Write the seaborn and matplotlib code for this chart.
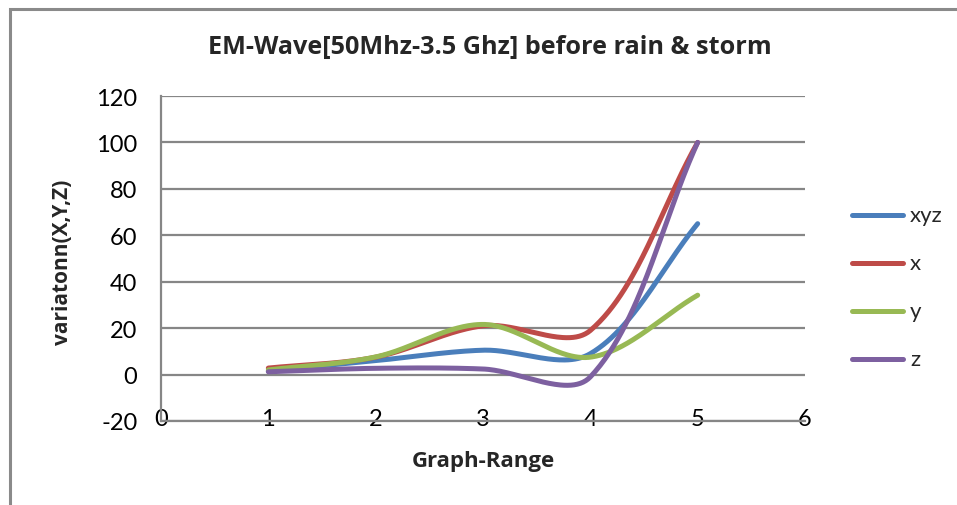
import numpy as np
import pandas as pd
import matplotlib
matplotlib.use("Agg")
import matplotlib.pyplot as plt
import seaborn as sns
from matplotlib.patches import Rectangle
from matplotlib.lines import Line2D

# ---- data ----
graph_range = [1, 2, 3, 4, 5]
xyz = [1.5, 6.0, 10.5, 9.0, 65.0]
x_vals = [2.8, 7.5, 21.0, 19.0, 100.0]
y_vals = [2.0, 7.6, 21.6, 7.5, 34.2]
z_vals = [1.2, 2.7, 2.4, -1.0, 100.0]
series_names = ["xyz", "x", "y", "z"]
colors = ["#4A7EBB", "#BE4B48", "#98B954", "#7D60A0"]

title = "EM-Wave[50Mhz-3.5 Ghz] before rain & storm"
xlabel = "Graph-Range"
ylabel = "variatonn(X,Y,Z)"
xticks = [0, 1, 2, 3, 4, 5, 6]
yticks = [-20, 0, 20, 40, 60, 80, 100, 120]

sns.set_theme(style="white")
plt.rcParams['font.family'] = ['Lato', 'DejaVu Sans']
BOLD = ['Open Sans', 'DejaVu Sans']

W, H = 957, 506
fig = plt.figure(figsize=(W / 100, H / 100), dpi=100)
ax = fig.add_axes([161 / W, 1 - 422 / H, (805 - 161) / W, (422 - 97) / H])
ax.set_xlim(0, 6)
ax.set_ylim(-20, 120)


def excel_smooth(xs, ys, n=60):
    """Excel-like smoothed line: cubic Bezier with length-weighted tangents in pixel space."""
    pts = ax.transData.transform(np.column_stack([xs, ys]))
    m = len(pts)
    out = []
    for i in range(m - 1):
        p0 = pts[i - 1] if i > 0 else pts[i]
        p1 = pts[i]
        p2 = pts[i + 1]
        p3 = pts[i + 2] if i + 2 < m else pts[i + 1]
        d01 = np.linalg.norm(p1 - p0)
        d12 = np.linalg.norm(p2 - p1)
        d23 = np.linalg.norm(p3 - p2)
        f1 = d12 / (d01 + d12) if d01 + d12 > 0 else 0.5
        f2 = d12 / (d12 + d23) if d12 + d23 > 0 else 0.5
        c1 = p1 + (p2 - p0) * f1 / 3.0
        c2 = p2 - (p3 - p1) * f2 / 3.0
        t = np.linspace(0, 1, n)[:, None]
        seg = ((1 - t) ** 3) * p1 + 3 * ((1 - t) ** 2) * t * c1 + 3 * (1 - t) * t ** 2 * c2 + t ** 3 * p2
        if i > 0:
            seg = seg[1:]
        out.append(seg)
    out = np.vstack(out)
    data = ax.transData.inverted().transform(out)
    return data[:, 0], data[:, 1]


grid_c = "#868686"
for yt in yticks:
    ax.axhline(yt, color=grid_c, lw=1.6, zorder=1)

for name, vals, c in zip(series_names, [xyz, x_vals, y_vals, z_vals], colors):
    sx, sy = excel_smooth(np.array(graph_range, float), np.array(vals, float))
    df = pd.DataFrame({"gx": sx, "gy": sy})
    sns.lineplot(data=df, x="gx", y="gy", sort=False, color=c, lw=3.6, ax=ax,
                 solid_capstyle="round", zorder=3)

ax.set_xticks(xticks)
ax.set_yticks(yticks)
ax.set_xticklabels([str(v) for v in xticks], fontsize=17)
ax.set_yticklabels([str(v) for v in yticks], fontsize=17)
ax.tick_params(axis="x", pad=-9, length=0, colors="black")
ax.tick_params(axis="y", pad=17, length=0, colors="black")
for lbl in ax.get_xticklabels():
    lbl.set_zorder(5)

for s in ["top", "right"]:
    ax.spines[s].set_visible(False)
for s in ["left", "bottom"]:
    ax.spines[s].set_color(grid_c)
    ax.spines[s].set_linewidth(1.6)

ax.set_xlabel("")
ax.set_ylabel("")
fig.text(483 / W, 1 - 462 / H, xlabel, ha="center", va="center", fontsize=16,
         fontweight="bold", family=BOLD)
fig.text(63 / W, 1 - 262 / H, ylabel, ha="center", va="center", rotation=90, fontsize=15,
         fontweight="bold", family=BOLD)
fig.text(490 / W, 1 - 47 / H, title, ha="center", va="center", fontsize=18.2,
         fontweight="bold", family=BOLD)

# legend (manual, figure coords)
leg_rows = [216, 264, 312, 360]
for name, c, yy in zip(series_names, colors, leg_rows):
    fig.add_artist(Line2D([852 / W, 903 / W], [1 - yy / H, 1 - yy / H], color=c, lw=3.6,
                          solid_capstyle="round", transform=fig.transFigure))
    fig.text(910 / W, 1 - yy / H, name, ha="left", va="center", fontsize=16)

# chart border
fig.add_artist(Rectangle((9.5 / W, -0.05), 1.2, 1 - 9.5 / H + 0.05, fill=False,
                         edgecolor="#8a8a8a", lw=2.2, transform=fig.transFigure))

fig.savefig("out.png", dpi=100, facecolor="white")
